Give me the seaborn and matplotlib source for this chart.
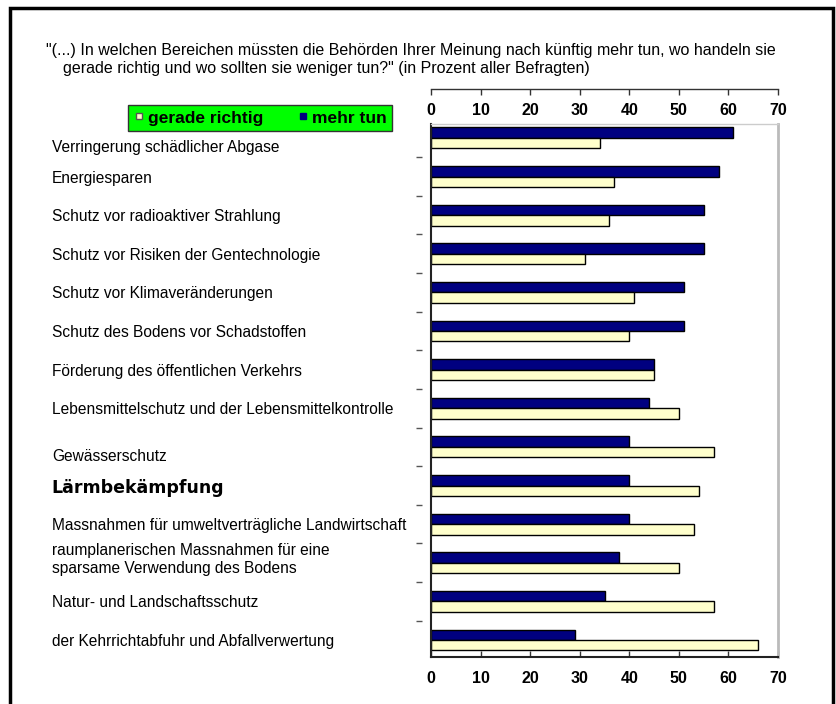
import matplotlib
matplotlib.use("Agg")
import matplotlib.pyplot as plt
import matplotlib.transforms as mtransforms
from matplotlib.lines import Line2D
from matplotlib.patches import Rectangle
import seaborn as sns
import pandas as pd

bereiche = [
    "Verringerung schädlicher Abgase",
    "Energiesparen",
    "Schutz vor radioaktiver Strahlung",
    "Schutz vor Risiken der Gentechnologie",
    "Schutz vor Klimaveränderungen",
    "Schutz des Bodens vor Schadstoffen",
    "Förderung des öffentlichen Verkehrs",
    "Lebensmittelschutz und der Lebensmittelkontrolle",
    "Gewässerschutz",
    "Lärmbekämpfung",
    "Massnahmen für umweltverträgliche Landwirtschaft",
    "raumplanerischen Massnahmen für eine\nsparsame Verwendung des Bodens",
    "Natur- und Landschaftsschutz",
    "der Kehrrichtabfuhr und Abfallverwertung",
]
mehr_tun = [61, 58, 55, 55, 51, 51, 45, 44, 40, 40, 40, 38, 35, 29]
gerade_richtig = [34, 37, 36, 31, 41, 40, 45, 50, 57, 54, 53, 50, 57, 66]
ticks = [0, 10, 20, 30, 40, 50, 60, 70]

title1 = '"(...) In welchen Bereichen müssten die Behörden Ihrer Meinung nach künftig mehr tun, wo handeln sie'
title2 = 'gerade richtig und wo sollten sie weniger tun?" (in Prozent aller Befragten)'

rows = []
for b, m, g in zip(bereiche, mehr_tun, gerade_richtig):
    rows += [(b, "mehr tun", m), (b, "gerade richtig", g)]
df = pd.DataFrame(rows, columns=["Bereich", "Antwort", "Prozent"])

sns.set_theme(style="white")
plt.rcParams["font.family"] = ["Liberation Sans", "DejaVu Sans"]
plt.rcParams["text.color"] = "black"
plt.rcParams["xtick.color"] = "black"
plt.rcParams["ytick.color"] = "black"

colors = {"mehr tun": "#000080", "gerade richtig": "#ffffcc"}

fig = plt.figure(figsize=(8.36, 7.04), dpi=100)
ax = fig.add_axes([431 / 836, 1 - 657 / 704, 347 / 836, 533 / 704])

sns.barplot(data=df, y="Bereich", x="Prozent", hue="Antwort", order=bereiche,
            hue_order=["mehr tun", "gerade richtig"], palette=colors, orient="h",
            width=0.54, edgecolor="black", linewidth=1, errorbar=None,
            saturation=1, legend=False, ax=ax)

ax.set_xlim(0, 70)
ax.set_ylim(13.44, -0.36)
ax.set_xlabel("")
ax.set_ylabel("")

# bottom axis
ax.set_xticks(ticks)
ax.set_xticklabels([str(t) for t in ticks], fontsize=11.5, fontweight="bold")
ax.tick_params(axis="x", direction="in", length=4, width=1, color="#333333",
               pad=10, bottom=True)

# category labels, left aligned far from the axis
ax.set_yticks(range(len(bereiche)))
ax.set_yticklabels(bereiche, fontsize=11.2, ha="left")
ax.tick_params(axis="y", length=0, pad=273)
labels = ax.get_yticklabels()
lab = labels[9]
lab.set_family("DejaVu Sans")
lab.set_fontsize(12.5)
lab.set_fontweight("semibold")
# small vertical nudges, as in the original layout (pixels, down positive)
for i, dy in [(0, 8), (8, 8), (11, -6)]:
    labels[i].set_transform(labels[i].get_transform() +
                            mtransforms.ScaledTranslation(0, -dy / 100, fig.dpi_scale_trans))

for side in ["left", "bottom"]:
    ax.spines[side].set_color("#222222")
    ax.spines[side].set_linewidth(1.5)
ax.spines["right"].set_color("#bbbbbb")
ax.spines["right"].set_linewidth(2)
ax.spines["top"].set_color("#cccccc")
ax.spines["top"].set_linewidth(1)

# detached category separators on the left
sec_y = ax.secondary_yaxis(-0.025)
sec_y.set_yticks([i + 0.5 for i in range(len(bereiche) - 1)])
sec_y.set_yticklabels([])
sec_y.tick_params(length=4, width=1, color="#555555", direction="out")
sec_y.spines["left"].set_visible(False)

# top axis: separate line with ticks, labels under it
top_line = ax.secondary_xaxis(1.0657)
top_line.set_xticks(ticks)
top_line.set_xticklabels([])
top_line.tick_params(direction="in", length=4, width=1, color="#333333")
top_line.spines["top"].set_color("#333333")
top_line.spines["top"].set_linewidth(1)

top_lab = ax.secondary_xaxis(1.0)
top_lab.set_xticks(ticks)
top_lab.set_xticklabels([str(t) for t in ticks], fontsize=11.5, fontweight="bold")
top_lab.tick_params(length=0, pad=4)
top_lab.spines["top"].set_visible(False)

# legend
handles = [
    Line2D([], [], marker="s", linestyle="none", markersize=5,
           markerfacecolor=colors["gerade richtig"], markeredgecolor="#555555"),
    Line2D([], [], marker="s", linestyle="none", markersize=5,
           markerfacecolor=colors["mehr tun"], markeredgecolor="#000080"),
]
leg = fig.legend(handles, ["gerade richtig", "mehr tun"], ncol=2,
                 loc="center", bbox_to_anchor=(260 / 836, 1 - 118 / 704),
                 frameon=True, fancybox=False, facecolor="#00ff00",
                 edgecolor="#333333", framealpha=1, handlelength=0.6,
                 handletextpad=0.2, columnspacing=2.0, borderpad=0.3,
                 prop={"size": 12.5, "weight": "bold"})

fig.text(46 / 836, 1 - 50 / 704, title1, fontsize=11.5, ha="left", va="center")
fig.text(63 / 836, 1 - 68 / 704, title2, fontsize=11.5, ha="left", va="center")

# outer frame
fig.patches.append(Rectangle((10 / 836, -0.05), 823 / 836, 1.05 - 8 / 704,
                             transform=fig.transFigure, fill=False,
                             edgecolor="black", linewidth=2.5))

fig.savefig("out.png", dpi=100)
